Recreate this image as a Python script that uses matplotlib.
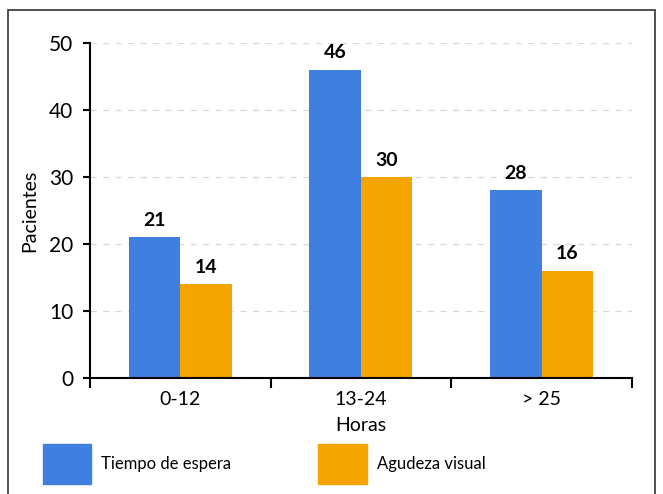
import matplotlib
matplotlib.use('Agg')
import matplotlib.pyplot as plt
import numpy as np
from matplotlib.patches import Rectangle, Patch

# Pacientes por intervalo de horas
categorias = ['0-12', '13-24', '> 25']
tiempo_espera = [21, 46, 28]
agudeza_visual = [14, 30, 16]

azul = '#3f7fdf'
naranja = '#f6a500'

plt.rcParams['font.family'] = ['Lato', 'DejaVu Sans']


def main():
    fig = plt.figure(figsize=(6.63, 4.94), dpi=100)
    ax = fig.add_axes([0.1357, 0.2348, 0.8175, 0.6783])

    x = np.arange(len(categorias)) + 0.5
    ancho = 0.285
    b1 = ax.bar(x - ancho / 2, tiempo_espera, ancho, color=azul, zorder=2)
    b2 = ax.bar(x + ancho / 2, agudeza_visual, ancho, color=naranja, zorder=2)

    # Valores sobre las barras
    for barras in (b1, b2):
        for b in barras:
            ax.annotate(f'{b.get_height():g}', (b.get_x() + b.get_width() / 2, b.get_height()),
                        xytext=(0, 6), textcoords='offset points', ha='center', va='bottom',
                        fontsize=14, fontweight='bold')

    ax.set_xlim(0, 3)
    ax.set_ylim(0, 50)
    ax.set_yticks(range(0, 51, 10))
    ax.set_yticklabels([str(v) for v in range(0, 51, 10)], fontsize=15)
    ax.set_xticks([0, 1, 2, 3])
    ax.set_xticklabels([])
    ax.set_xticks(x, minor=True)
    ax.set_xticklabels(categorias, minor=True, fontsize=14)
    ax.tick_params(axis='x', which='minor', length=0, pad=9)
    ax.tick_params(axis='x', which='major', length=7, width=1.5, direction='out')
    ax.tick_params(axis='y', length=5, width=1.5, direction='out', pad=7)

    ax.yaxis.grid(True, linestyle=(0, (5, 5)), color='#d8d8d8', linewidth=0.9, zorder=0)
    ax.set_axisbelow(True)
    for s in ('top', 'right'):
        ax.spines[s].set_visible(False)
    for s in ('left', 'bottom'):
        ax.spines[s].set_linewidth(1.5)

    ax.set_ylabel('Pacientes', fontsize=14, labelpad=8)
    ax.set_xlabel('Horas', fontsize=14, labelpad=7)

    # Leyenda inferior
    handles = [Patch(color=azul), Patch(color=naranja)]
    fig.legend(handles, ['Tiempo de espera', 'Agudeza visual'], loc='lower left',
               bbox_to_anchor=(0.05, 0.0), ncol=2, frameon=False, fontsize=12,
               handlelength=2.9, handleheight=3.3, handletextpad=0.6, columnspacing=5.2,
               borderaxespad=0.2)

    # Marco exterior
    fig.patches.append(Rectangle((0.012, -0.05), 0.976, 1.03, transform=fig.transFigure,
                                 fill=False, edgecolor='#333333', linewidth=1.2))

    fig.savefig('out.png', dpi=100)


if __name__ == '__main__':
    main()
